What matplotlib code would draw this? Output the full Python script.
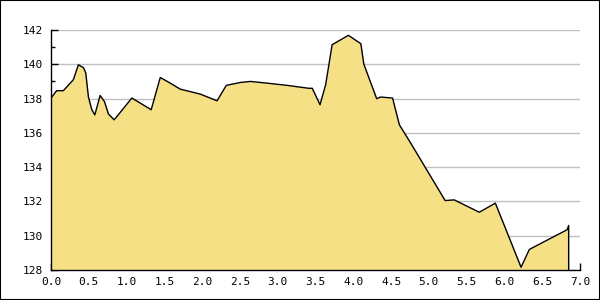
import matplotlib
matplotlib.use("Agg")
import matplotlib.pyplot as plt
from matplotlib.patches import Rectangle
from matplotlib.ticker import MultipleLocator

# points
xs = [0.0, 0.075, 0.163, 0.296, 0.362, 0.43, 0.46, 0.495, 0.54, 0.58,
      0.65, 0.707, 0.76, 0.836, 1.07, 1.326, 1.446, 1.578, 1.71, 1.976,
      2.197, 2.32, 2.507, 2.64, 2.86, 3.125, 3.41, 3.457, 3.56, 3.634,
      3.72, 3.935, 4.1, 4.14, 4.31, 4.36, 4.52, 4.61, 4.76, 5.216,
      5.336, 5.667, 5.88, 6.22, 6.33, 6.83, 6.85]
ys = [138.03, 138.46, 138.46, 139.1, 139.97, 139.8, 139.5, 138.1, 137.35, 137.05,
      138.18, 137.83, 137.1, 136.76, 138.03, 137.35, 139.23, 138.9, 138.55, 138.26,
      137.87, 138.77, 138.94, 139.0, 138.9, 138.77, 138.6, 138.6, 137.64, 138.8,
      141.14, 141.69, 141.2, 140.0, 137.99, 138.09, 138.03, 136.47, 135.4, 132.05,
      132.09, 131.37, 131.9, 128.16, 129.2, 130.35, 130.6]

y_min, y_max = 128, 142
x_min, x_max = 0, 7

fill_color = "#f6e086"
grid_color = "#c0c0c0"

fig = plt.figure(figsize=(6, 3), dpi=100)
ax = fig.add_axes([51 / 600, 0.1, 529 / 600, 0.8])

ax.fill_between(xs, ys, y_min, color=fill_color, linewidth=0)
ax.plot(xs + [xs[-1]], ys + [y_min], color="black", linewidth=1)

ax.set_xlim(x_min, x_max)
ax.set_ylim(y_min, y_max)

ax.xaxis.set_major_locator(MultipleLocator(0.5))
ax.yaxis.set_major_locator(MultipleLocator(2))
ax.yaxis.set_minor_locator(MultipleLocator(1))
ax.xaxis.set_major_formatter(matplotlib.ticker.FormatStrFormatter("%.1f"))

ax.grid(axis="y", which="major", color=grid_color, linewidth=1)
ax.set_axisbelow(True)

for side in ["top", "right"]:
    ax.spines[side].set_visible(False)
for side in ["left", "bottom"]:
    ax.spines[side].set_linewidth(1)

ax.tick_params(axis="both", which="major", direction="in", length=5, width=1,
               labelsize=8)
ax.tick_params(axis="y", which="minor", direction="in", length=3, width=1)
ax.tick_params(axis="y", pad=6)
ax.tick_params(axis="x", pad=5)
for lab in ax.get_xticklabels() + ax.get_yticklabels():
    lab.set_family("DejaVu Sans Mono")

fig.patches.append(Rectangle((0, 0), 1, 1, transform=fig.transFigure,
                             fill=False, edgecolor="black", linewidth=1.5))

fig.savefig("out.png", dpi=100)
